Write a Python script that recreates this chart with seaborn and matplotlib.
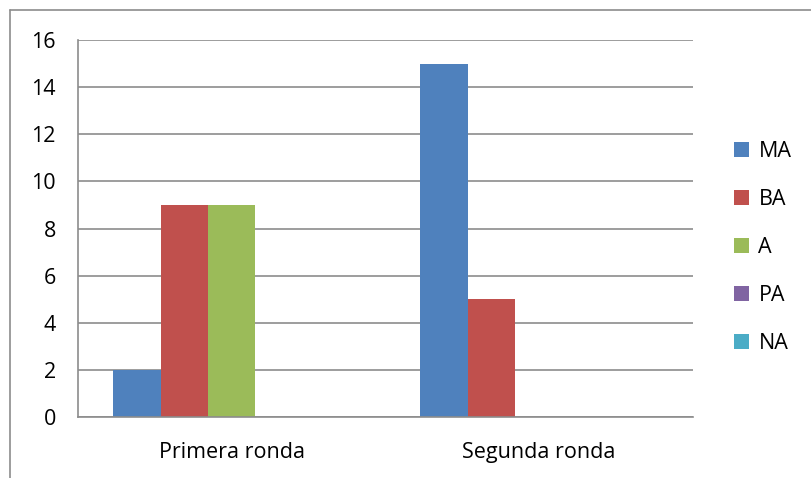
import matplotlib.pyplot as plt
import pandas as pd
import seaborn as sns
from matplotlib.lines import Line2D
from matplotlib.patches import Patch

rounds = ["Primera ronda", "Segunda ronda"]
levels = ["MA", "BA", "A", "PA", "NA"]
primera = [2, 9, 9, 0, 0]
segunda = [15, 5, 0, 0, 0]
colors = ["#4F81BD", "#C0504D", "#9BBB59", "#8064A2", "#4BACC6"]

df = pd.DataFrame(
    {
        "ronda": [rounds[0]] * len(levels) + [rounds[1]] * len(levels),
        "nivel": levels * 2,
        "valor": primera + segunda,
    }
)

sns.set_style("white")
plt.rcParams["font.family"] = ["Open Sans", "DejaVu Sans"]
plt.rcParams["text.color"] = "black"
plt.rcParams["xtick.labelcolor"] = "black"
plt.rcParams["ytick.labelcolor"] = "black"
grid_grey = "#8C8C8C"

fig = plt.figure(figsize=(8.11, 4.78), dpi=100)
ax = fig.add_axes([0.0962, 0.1276, 0.758, 0.7887])

sns.barplot(
    data=df,
    x="ronda",
    y="valor",
    hue="nivel",
    hue_order=levels,
    palette=colors,
    width=0.772,
    saturation=1,
    linewidth=0,
    legend=False,
    ax=ax,
)

ax.set_xlim(-0.5, 1.5)
ax.set_ylim(0, 16)
ax.set_yticks(range(0, 17, 2))
ax.yaxis.grid(True, color=grid_grey, linewidth=1.2)
ax.set_axisbelow(True)
ax.set_xlabel("")
ax.set_ylabel("")

for side in ["top", "right"]:
    ax.spines[side].set_visible(False)
for side in ["left", "bottom"]:
    ax.spines[side].set_color(grid_grey)
    ax.spines[side].set_linewidth(1.2)

ax.tick_params(axis="y", length=8, width=1.2, color=grid_grey, labelsize=15.5, pad=8)
ax.tick_params(axis="x", length=0, labelsize=15.5, pad=18)
ax.set_xticks([-0.5, 0.5, 1.5], minor=True)
ax.tick_params(axis="x", which="minor", length=8, width=1.2, color=grid_grey)

handles = [Patch(facecolor=c, edgecolor="none") for c in colors]
ax.legend(
    handles,
    levels,
    loc="center left",
    bbox_to_anchor=(1.035, 0.45),
    frameon=False,
    fontsize=15.5,
    handlelength=0.7,
    handleheight=0.7,
    handletextpad=0.45,
    labelspacing=1.25,
)

# outer chart border (only top and left are visible in the crop)
fig.add_artist(Line2D([10 / 811, 10 / 811], [0, 1 - 10 / 478], color=grid_grey, lw=1.2))
fig.add_artist(Line2D([10 / 811, 1], [1 - 10 / 478, 1 - 10 / 478], color=grid_grey, lw=1.2))

fig.savefig("out.png", dpi=100)
